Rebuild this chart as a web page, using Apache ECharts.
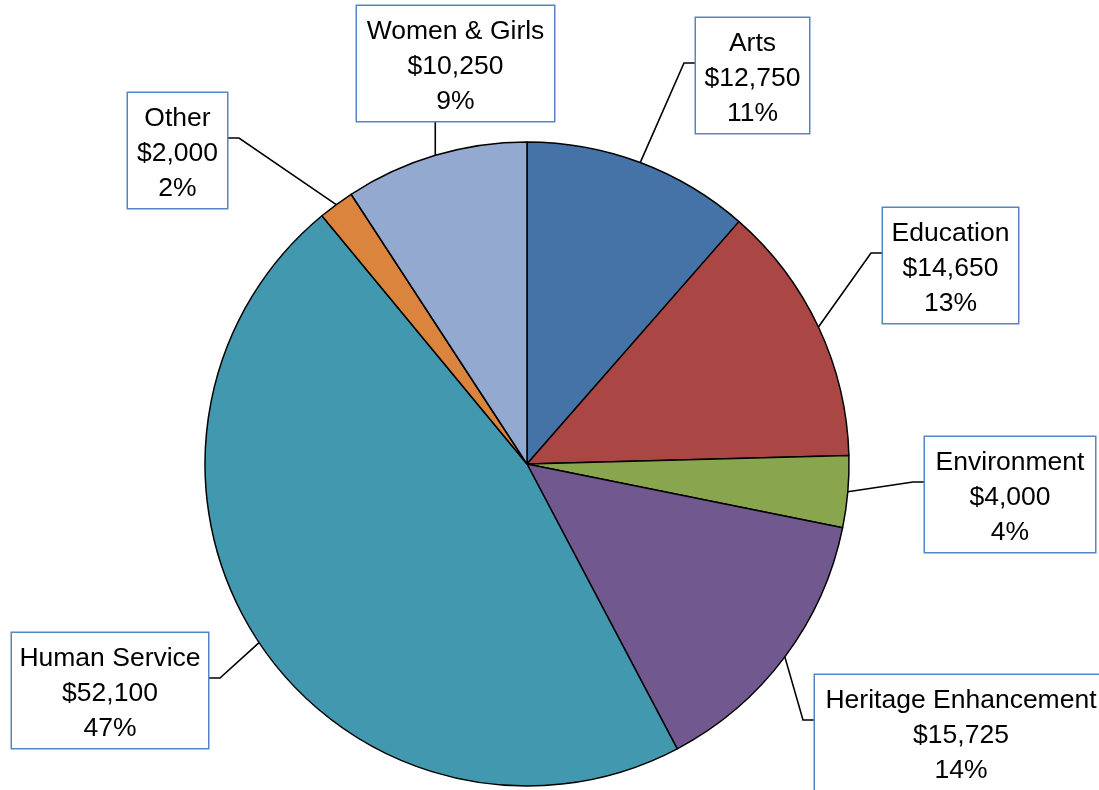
<!DOCTYPE html>
<html>
<head>
<meta charset="utf-8">
<script src="https://cdn.jsdelivr.net/npm/echarts@6/dist/echarts.min.js"></script>
<style>
  html, body { margin: 0; padding: 0; background: #fff; }
  #chart { width: 1099px; height: 790px; }
</style>
</head>
<body>
<div id="chart"></div>
<script>
const categories = ['Arts', 'Education', 'Environment', 'Heritage Enhancement', 'Human Service', 'Other', 'Women & Girls'];
const amounts = [12750, 14650, 4000, 15725, 52100, 2000, 10250];
const colors = ['#4572A7', '#AA4643', '#89A54E', '#71588F', '#4198AF', '#DB843D', '#93A9CF'];

// label box layout: [left, top, width, side where the leader attaches]
const boxLayout = [
  [696, 18, 113, 'left'],
  [883, 208, 135, 'left'],
  [925, 437, 170, 'left'],
  [815, 675, 292, 'left'],
  [12, 633, 196, 'right'],
  [128, 93, 99, 'right'],
  [357, 6, 197, 'bottom']
];
const BOX_H = 115;

const total = amounts.reduce((a, b) => a + b, 0);
const fmtMoney = v => '$' + v.toLocaleString('en-US');

const chart = echarts.init(document.getElementById('chart'), null, { renderer: 'canvas' });

const data = categories.map((n, i) => ({
  name: n,
  value: amounts[i],
  itemStyle: { color: colors[i] },
  label: { width: boxLayout[i][2] }
}));

chart.setOption({
  animation: false,
  backgroundColor: '#ffffff',
  series: [{
    type: 'pie',
    center: [527, 464],
    radius: 322,
    startAngle: 90,
    clockwise: true,
    avoidLabelOverlap: false,
    emphasis: { disabled: true },
    itemStyle: { borderColor: '#000', borderWidth: 1.5 },
    data: data,
    label: {
      show: true,
      position: 'outside',
      overflow: 'none',
      formatter: p => p.name + '\n' + fmtMoney(p.value) + '\n' + Math.round(p.value / total * 100) + '%',
      color: '#000',
      fontFamily: 'Liberation Sans',
      fontSize: 26.5,
      lineHeight: 35,
      align: 'center',
      backgroundColor: '#fff',
      borderColor: '#5585C2',
      borderWidth: 1.5,
      padding: [8, 0, 2, 0]
    },
    labelLine: {
      show: true,
      length: 30,
      length2: 12,
      smooth: false,
      lineStyle: { color: '#000', width: 1.6 }
    },
    labelLayout: function (p) {
      const b = boxLayout[p.dataIndex];
      const a = p.labelLinePoints ? p.labelLinePoints[0] : null;
      let pts;
      if (a) {
        if (b[3] === 'left') {
          const ay = b[1] + 45;
          pts = [[a[0], a[1]], [b[0] - 12, ay], [b[0], ay]];
        } else if (b[3] === 'right') {
          const ay = b[1] + 45;
          pts = [[a[0], a[1]], [b[0] + b[2] + 12, ay], [b[0] + b[2], ay]];
        } else {
          pts = [[a[0], a[1]], [a[0], b[1] + BOX_H], [a[0], b[1] + BOX_H]];
        }
      }
      const out = { x: b[0] + b[2] / 2, y: b[1], align: 'center', verticalAlign: 'top' };
      if (pts) out.labelLinePoints = pts;
      return out;
    }
  }]
});
</script>
</body>
</html>
